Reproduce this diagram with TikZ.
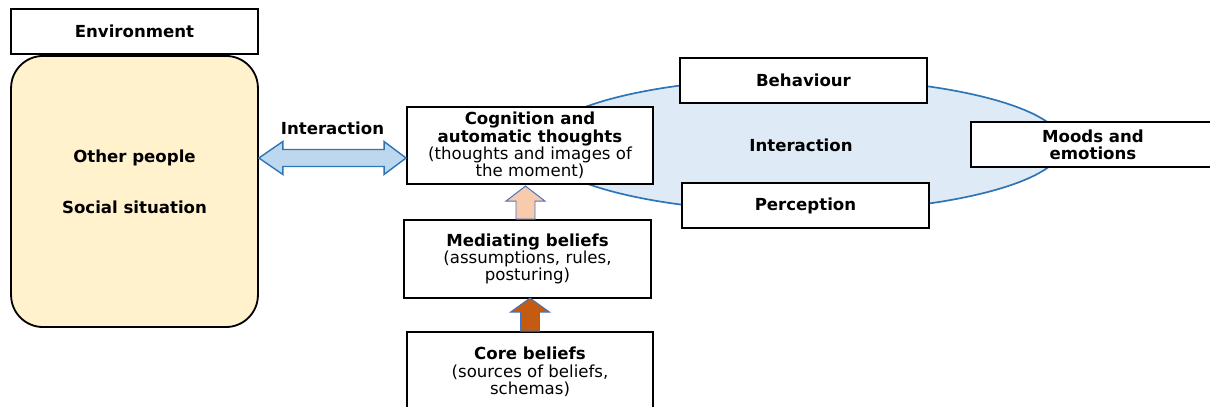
\documentclass[tikz,border=0pt]{standalone}
\usepackage{fontspec}
\setmainfont{DejaVu Sans}
\usepackage{xcolor}
\usetikzlibrary{positioning,calc,shapes.geometric}

\definecolor{envfill}{HTML}{FFF2CC}
\definecolor{loopfill}{HTML}{DEEBF7}
\definecolor{loopline}{HTML}{2E75B6}
\definecolor{linkfill}{HTML}{BDD7EE}
\definecolor{peach}{HTML}{F8CBAD}
\definecolor{rust}{HTML}{C55A11}
\definecolor{arrowline}{HTML}{4472C4}

\tikzset{
  txt/.style={font=\fontsize{11.8}{12.3}\selectfont},
  bold/.style={font=\fontsize{11.8}{12.3}\selectfont\bfseries},
  box/.style={draw,line width=1.3pt,fill=white,align=center,inner sep=2pt,txt},
  wide/.style={minimum width=6.17cm},
  blockarrow/.style={draw=arrowline,line width=0.7pt,line join=miter},
}

\begin{document}
\begin{tikzpicture}[x=0.025cm,y=0.025cm]
\useasboundingbox (0,0) rectangle (1210,407);

% loop of behaviour, perception and moods
\node[ellipse,draw=loopline,line width=1.2pt,fill=loopfill,minimum width=13.1cm,minimum height=3.35cm,bold] (loop) at (801,262) {Interaction};
\node[box,wide,minimum height=1.125cm,bold] (beh) at (803.5,326.5) {Behaviour};
\node[box,wide,minimum height=1.125cm,bold] (per) at (805.5,201.5) {Perception};
\node[box,minimum width=6.1cm,minimum height=1.125cm,bold] (moods) at (1093,262.5) {Moods and\\emotions};

% environment side
\node[box,wide,minimum height=1.125cm,bold] (env) at (134.5,375.5) {Environment};
\node[box,wide,fill=envfill,rounded corners=0.8cm,minimum height=6.775cm] (other) at (134.5,215.5) {};
\node[bold,align=center] (people) at ($(other.center)+(0,10)$) {Other people\\[24pt]Social situation};

% belief levels
\node[box,minimum width=6.15cm,minimum height=1.925cm] (cog) at (530,261.5) {\textbf{Cognition and}\\\textbf{automatic thoughts}\\(thoughts and images of\\the moment)};
\node[box,wide,minimum height=1.95cm] (med) at (527.5,148) {\textbf{Mediating beliefs}\\(assumptions, rules,\\posturing)};
\node[box,minimum width=6.15cm,minimum height=2cm] (core) at (530,35) {\textbf{Core beliefs}\\(sources of beliefs,\\schemas)};

% two-way link between the person and the situation
\coordinate (l) at (other.east |- 0,249);
\coordinate (r) at (cog.west |- 0,249);
\draw[blockarrow,draw=loopline,line width=1pt,fill=linkfill] (l) -- ++(24,16.5) -- ++(0,-8) -- ($(r)+(-22,8.5)$) -- ++(0,8) -- (r)
  -- ++(-22,-16.5) -- ++(0,8) -- ($(l)+(24,-8.5)$) -- ++(0,-8) -- cycle;
\node[bold] (linklabel) at ($(l)!0.5!(r)+(0,30)$) {Interaction};

% upward arrows between the levels
\draw[blockarrow,fill=peach,shift={($(med.north)+(-2,0)$)}] (-9.5,0) -- (-9.5,18) -- (-19.5,18) -- (0,33) -- (19.5,18) -- (9.5,18) -- (9.5,0) -- cycle;
\draw[blockarrow,fill=rust,shift={(core.north)}] (-9.5,0) -- (-9.5,19) -- (-19.5,19) -- (0,33) -- (19.5,19) -- (9.5,19) -- (9.5,0) -- cycle;
\end{tikzpicture}
\end{document}
